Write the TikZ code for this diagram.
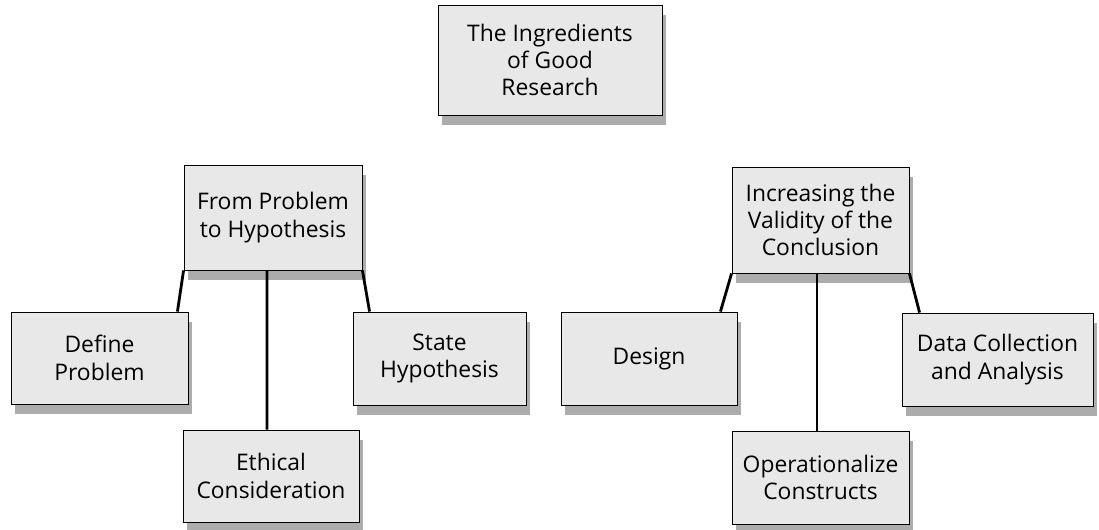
\documentclass[tikz,border=0pt]{standalone}
\usepackage{fontspec}
\setmainfont{Open Sans}
\usetikzlibrary{shadows}

\begin{document}
\begin{tikzpicture}[
  box/.style={draw, rectangle, fill=gray!18, line width=0.5pt, align=center,
    font=\fontsize{13}{15.6}\selectfont, inner sep=0pt,
    drop shadow={shadow xshift=0.08cm, shadow yshift=-0.2cm, fill=gray!65, opacity=1}},
  link/.style={line width=1.6pt}
]
\useasboundingbox (0,0) rectangle (21.98,10.58);

% Boxes
\node[box, minimum width=4.48cm, minimum height=2.20cm] (top) at (11.00,9.38) {The Ingredients\\of Good\\Research};

\node[box, minimum width=3.56cm, minimum height=2.10cm] (probhyp) at (5.46,6.23) {From Problem\\to Hypothesis};
\node[box, minimum width=3.54cm, minimum height=1.84cm] (define) at (1.99,3.42) {Define\\Problem};
\node[box, minimum width=3.46cm, minimum height=1.86cm] (state) at (8.79,3.41) {State\\Hypothesis};
\node[box, minimum width=3.52cm, minimum height=1.84cm] (ethical) at (5.42,1.06) {Ethical\\Consideration};

\node[box, minimum width=3.54cm, minimum height=2.12cm] (validity) at (16.41,6.18) {Increasing the\\Validity of the\\Conclusion};
\node[box, minimum width=3.52cm, minimum height=1.86cm] (design) at (12.98,3.41) {Design};
\node[box, minimum width=3.82cm, minimum height=1.86cm] (datacoll) at (19.95,3.39) {Data Collection\\and Analysis};
\node[box, minimum width=3.54cm, minimum height=1.86cm] (oper) at (16.41,1.03) {Operationalize\\Constructs};

% Lines
\draw[link] (probhyp.south west) -- ([xshift=-0.22cm]define.north east);
\draw[link] ([xshift=-0.12cm]probhyp.south) -- ([xshift=-0.08cm]ethical.north);
\draw[link] (probhyp.south east) -- ([xshift=0.34cm]state.north west);

\draw[link] (validity.south west) -- ([xshift=-0.34cm]design.north east);
\draw[link] ([xshift=-0.07cm]validity.south) -- ([xshift=-0.07cm]oper.north);
\draw[link] (validity.south east) -- ([xshift=0.36cm]datacoll.north west);
\end{tikzpicture}
\end{document}
